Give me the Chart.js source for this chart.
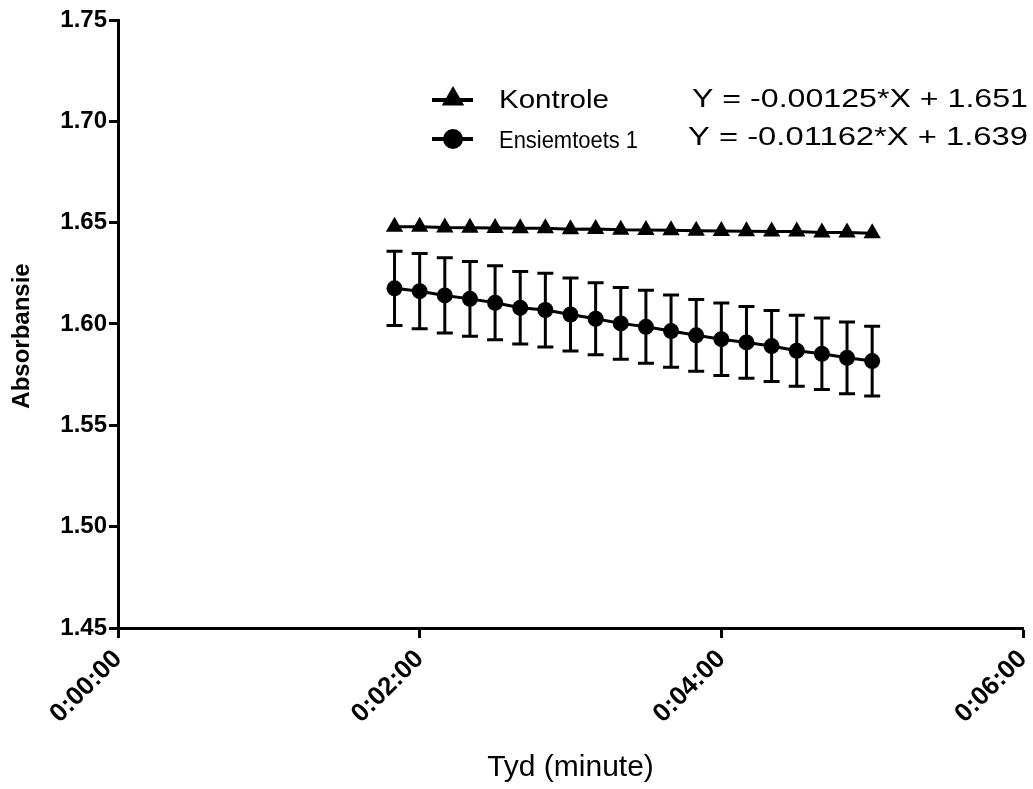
<!DOCTYPE html>
<html>
<head>
<meta charset="utf-8">
<title>Absorbansie teen tyd</title>
<script src="https://cdn.jsdelivr.net/npm/chart.js@4/dist/chart.umd.min.js"></script>
<style>
  html, body { margin: 0; padding: 0; background: #fff; }
  #wrap { width: 1033px; height: 789px; }
</style>
</head>
<body>
<div id="wrap"><canvas id="chart" width="1033" height="789"></canvas></div>
<script>
"use strict";
// time of each reading, in seconds
const timeSec = [110, 120, 130, 140, 150, 160, 170, 180, 190, 200,
                 210, 220, 230, 240, 250, 260, 270, 280, 290, 300];
const kontrole = [1.6480, 1.6480, 1.6476, 1.6475, 1.6474, 1.6473, 1.6472, 1.6468, 1.6469, 1.6465,
                  1.6464, 1.6463, 1.6460, 1.6459, 1.6458, 1.6457, 1.6456, 1.6452, 1.6451, 1.6448];
const ensiem = [1.6176, 1.6162, 1.6141, 1.6124, 1.6105, 1.6080, 1.6069, 1.6047, 1.6026, 1.6003,
                1.5986, 1.5965, 1.5944, 1.5925, 1.5909, 1.5891, 1.5868, 1.5853, 1.5833, 1.5817];
// standard deviation of the enzyme readings
const ensiemErr = [0.0183, 0.0186, 0.0186, 0.0184, 0.0183, 0.0179, 0.0182, 0.0180, 0.0178, 0.0177,
                   0.0180, 0.0178, 0.0177, 0.0179, 0.0177, 0.0175, 0.0175, 0.0176, 0.0177, 0.0172];
const xTicks = [0, 120, 240, 360];
const seriesNames = ["Kontrole", "Ensiemtoets 1"];
const equations = ["Y = -0.00125*X + 1.651", "Y = -0.01162*X + 1.639"];
const yTitle = "Absorbansie";

const FONT = "'Liberation Sans', Arial, Helvetica, sans-serif";

function fmtTime(sec) {
    const m = Math.floor(sec / 60);
    const s = sec % 60;
    return "0:" + String(m).padStart(2, "0") + ":" + String(s).padStart(2, "0");
}

// vertical error bars with caps, drawn under the markers
const errorBars = {
    id: "errorBars",
    beforeDatasetsDraw(chart) {
        const ctx = chart.ctx;
        const xs = chart.scales.x, ys = chart.scales.y;
        ctx.save();
        ctx.strokeStyle = "#000";
        ctx.lineWidth = 3;
        timeSec.forEach((t, i) => {
            const x = xs.getPixelForValue(t);
            const top = ys.getPixelForValue(ensiem[i] + ensiemErr[i]);
            const bot = ys.getPixelForValue(ensiem[i] - ensiemErr[i]);
            ctx.beginPath();
            ctx.moveTo(x, top);
            ctx.lineTo(x, bot);
            ctx.moveTo(x - 8, top);
            ctx.lineTo(x + 8, top);
            ctx.moveTo(x - 8, bot);
            ctx.lineTo(x + 8, bot);
            ctx.stroke();
        });
        ctx.restore();
    }
};

// y axis title, sitting a little below the middle of the axis
const yAxisTitle = {
    id: "yAxisTitle",
    afterDraw(chart) {
        const ctx = chart.ctx;
        const area = chart.chartArea;
        ctx.save();
        ctx.translate(22, (area.top + area.bottom) / 2 + 12);
        ctx.rotate(-Math.PI / 2);
        ctx.font = "bold 24px " + FONT;
        ctx.fillStyle = "#000";
        ctx.textAlign = "center";
        ctx.textBaseline = "middle";
        ctx.fillText(yTitle, 0, 0);
        ctx.restore();
    }
};

// legend with the fitted line equations next to each entry
function stretchText(ctx, text, x, y, font, width) {
    ctx.font = font;
    const w = ctx.measureText(text).width;
    ctx.save();
    ctx.translate(x, y);
    ctx.scale(width / w, 1);
    ctx.fillText(text, 0, 0);
    ctx.restore();
}

const equationLegend = {
    id: "equationLegend",
    afterDraw(chart) {
        const ctx = chart.ctx;
        const rows = [
            { y: 100, style: "triangle", r: 9, label: { size: 25, width: 110, base: 108 }, eq: { x: 692, size: 25, width: 336, base: 107 } },
            { y: 139, style: "circle", r: 8, label: { size: 23, width: 139, base: 148 }, eq: { x: 688, size: 25, width: 340, base: 145 } }
        ];
        ctx.save();
        ctx.fillStyle = "#000";
        ctx.strokeStyle = "#000";
        ctx.textBaseline = "alphabetic";
        ctx.textAlign = "left";
        rows.forEach((row, i) => {
            ctx.lineWidth = 4;
            ctx.beginPath();
            ctx.moveTo(432, row.y);
            ctx.lineTo(473, row.y);
            ctx.stroke();
            Chart.helpers.drawPoint(ctx, { pointStyle: row.style, radius: row.r, rotation: 0, borderWidth: 1 }, 453, row.style === "triangle" ? row.y - 1 : row.y);
            ctx.fill();
            stretchText(ctx, seriesNames[i], 499, row.label.base, row.label.size + "px " + FONT, row.label.width);
            stretchText(ctx, equations[i], row.eq.x, row.eq.base, row.eq.size + "px " + FONT, row.eq.width);
        });
        ctx.restore();
    }
};

const toXY = (vals) => vals.map((v, i) => ({ x: timeSec[i], y: v }));

new Chart(document.getElementById("chart"), {
    type: "line",
    data: {
        datasets: [
            {
                label: seriesNames[0],
                data: toXY(kontrole),
                borderColor: "#000",
                backgroundColor: "#000",
                borderWidth: 3,
                pointStyle: "triangle",
                pointRadius: 10,
                pointBorderWidth: 0
            },
            {
                label: seriesNames[1],
                data: toXY(ensiem),
                borderColor: "#000",
                backgroundColor: "#000",
                borderWidth: 3,
                pointStyle: "circle",
                pointRadius: 8,
                pointBorderWidth: 0
            }
        ]
    },
    options: {
        responsive: false,
        animation: false,
        layout: { padding: { left: 0, top: 20, right: 10, bottom: 0 } },
        plugins: {
            legend: { display: false },
            tooltip: { enabled: false }
        },
        scales: {
            x: {
                type: "linear",
                min: 0,
                max: 360,
                afterBuildTicks(scale) {
                    scale.ticks = xTicks.map(v => ({ value: v }));
                },
                afterFit(scale) {
                    scale.height = 161;
                    scale.paddingRight = 0;
                },
                ticks: {
                    callback: (v) => fmtTime(v),
                    color: "#000",
                    font: { family: FONT, size: 26, weight: "bold" },
                    maxRotation: 45,
                    minRotation: 45,
                    padding: 6
                },
                grid: { drawOnChartArea: false, drawTicks: true, tickLength: 10, tickWidth: 3, tickColor: "#000" },
                border: { color: "#000", width: 3 },
                title: {
                    display: true,
                    text: "Tyd (minute)",
                    color: "#000",
                    font: { family: FONT, size: 30 },
                    padding: { top: 0, bottom: 3 }
                }
            },
            y: {
                min: 1.45,
                max: 1.75,
                afterFit(scale) { scale.width = 118; },
                ticks: {
                    stepSize: 0.05,
                    callback: (v) => v.toFixed(2),
                    color: "#000",
                    font: { family: FONT, size: 24, weight: "bold" },
                    padding: 2
                },
                grid: { drawOnChartArea: false, drawTicks: true, tickLength: 9, tickWidth: 3, tickColor: "#000" },
                border: { color: "#000", width: 3 }
            }
        }
    },
    plugins: [errorBars, yAxisTitle, equationLegend]
});
</script>
</body>
</html>
